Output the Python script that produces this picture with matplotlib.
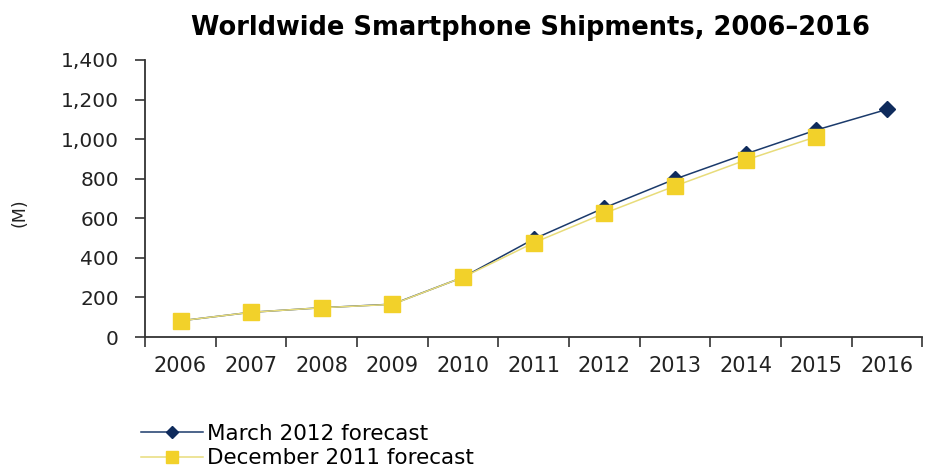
import matplotlib
matplotlib.use("Agg")
import matplotlib.pyplot as plt
from matplotlib.ticker import FuncFormatter, FixedLocator

years = ["2006", "2007", "2008", "2009", "2010", "2011", "2012", "2013", "2014", "2015", "2016"]
march_2012 = [82, 125, 148, 166, 302, 495, 653, 798, 925, 1046, 1150]
dec_2011 = [82, 125, 148, 165, 302, 476, 625, 763, 894, 1012]

fig = plt.figure(figsize=(9.25, 4.72), dpi=100)
ax = fig.add_axes([0.157, 0.286, 0.840, 0.587])

x_m = list(range(len(march_2012)))
x_d = list(range(len(dec_2011)))
ax.plot(x_m, march_2012, color="#1b3a6b", lw=1.1, marker="D", ms=8,
        markerfacecolor="#0f2b5c", markeredgecolor="#0f2b5c", label="March 2012 forecast", zorder=3)
ax.plot(x_d, dec_2011, color="#e8dc7a", lw=1.1, marker="s", ms=11,
        markerfacecolor="#f2d12a", markeredgecolor="#f2d12a", label="December 2011 forecast", zorder=4)

ax.set_xlim(-0.5, len(years) - 0.5)
ax.set_ylim(0, 1400)
ax.set_yticks(range(0, 1401, 200))
ax.yaxis.set_major_formatter(FuncFormatter(lambda v, p: f"{int(v):,}"))
ax.set_xticks(range(len(years)))
ax.set_xticklabels(years)
ax.xaxis.set_minor_locator(FixedLocator([i - 0.5 for i in range(len(years) + 1)]))
ax.tick_params(axis="x", which="major", length=0, pad=14, labelsize=15, colors="#222222")
ax.tick_params(axis="x", which="minor", length=7, width=1.2, color="#333333", direction="out")
ax.tick_params(axis="y", length=7, width=1.2, color="#333333", labelsize=14.5, labelcolor="#222222", pad=12)
for lbl in ax.get_xticklabels() + ax.get_yticklabels():
    lbl.set_family("DejaVu Sans")

for s in ["top", "right"]:
    ax.spines[s].set_visible(False)
for s in ["left", "bottom"]:
    ax.spines[s].set_color("#333333")
    ax.spines[s].set_linewidth(1.3)

fig.text(20 / 925, 1 - 213 / 472, "(M)", rotation=90, ha="center", va="center",
         fontsize=12.5, family="DejaVu Sans", color="#222222")

fig.text(0.573, 0.941, "Worldwide Smartphone Shipments, 2006\u20132016", ha="center", va="center",
         fontsize=18.5, fontweight="bold", family="DejaVu Sans")

leg = fig.legend(loc="lower left", bbox_to_anchor=(0.143, -0.01), frameon=False,
                 prop={"family": "DejaVu Sans", "size": 15.5}, handlelength=2.9,
                 handletextpad=0.15, labelspacing=0.2, borderaxespad=0)
for h in leg.legend_handles:
    h.set_markersize(h.get_markersize() * 0.8)

fig.savefig("out.png", dpi=100)
